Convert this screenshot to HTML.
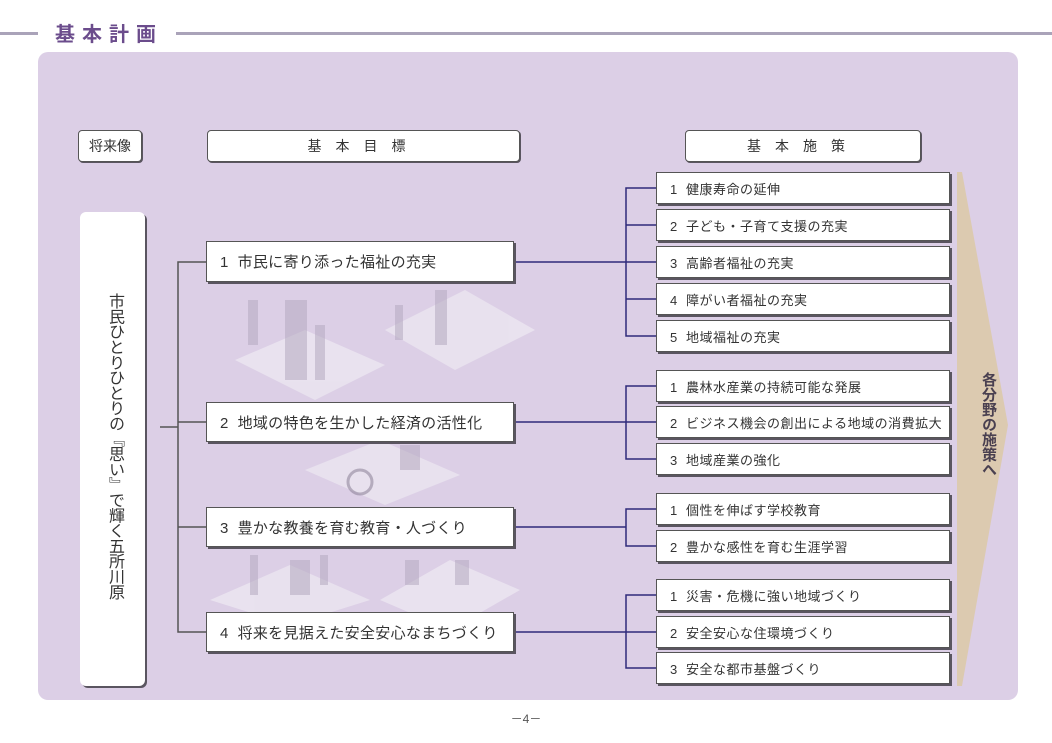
<!DOCTYPE html>
<html><head><meta charset="utf-8"><style>
*{margin:0;padding:0;box-sizing:border-box}
body{width:1052px;height:743px;background:#fff;position:relative;overflow:hidden;font-family:"Liberation Sans","Noto Sans CJK JP",sans-serif;color:#333}
.a{position:absolute}
.box{position:absolute;background:#fff;border:1px solid #555;box-shadow:2px 2px 0 #5a5560;display:flex;align-items:center;font-size:13px;color:#333}
.hd{justify-content:center;border-radius:4px;font-size:14px;letter-spacing:14px;border:1.5px solid #555;box-shadow:1px 1px 0 #5a5560}
.goal{font-size:15px;padding-left:13px;letter-spacing:0.3px}
.pol{padding-left:13px;letter-spacing:.5px}
</style></head><body>
<div class="a" style="left:0;top:32px;width:38px;height:3px;background:#aaa3b9"></div>
<div class="a" style="left:55px;top:18px;font-size:20px;font-weight:bold;color:#6b4c8c;letter-spacing:7px">基本計画</div>
<div class="a" style="left:176px;top:32px;width:876px;height:3px;background:#aaa3b9"></div>
<div class="a" style="left:38px;top:52px;width:980px;height:648px;background:#dccfe6;border-radius:10px"></div>
<svg class="a" style="left:0;top:0" width="1052" height="743">
<g fill="#ece6f1" opacity="0.8">
<polygon points="235,360 305,330 385,365 315,400"/>
<polygon points="385,330 465,290 535,330 455,370"/>
<polygon points="305,470 380,440 460,475 385,505"/>
<polygon points="210,600 290,565 370,600 290,625"/>
<polygon points="380,600 450,560 520,590 450,630"/>
</g>
<g fill="#b5aac0" opacity="0.55">
<rect x="248" y="300" width="10" height="45"/><rect x="285" y="300" width="22" height="80"/><rect x="315" y="325" width="10" height="55"/>
<rect x="435" y="290" width="12" height="55"/><rect x="395" y="305" width="8" height="35"/>
<rect x="400" y="445" width="20" height="25"/><circle cx="360" cy="482" r="12" fill="none" stroke="#8a7f96" stroke-width="3"/>
<rect x="250" y="555" width="8" height="40"/><rect x="290" y="560" width="20" height="35"/><rect x="320" y="555" width="8" height="30"/>
<rect x="405" y="560" width="14" height="25"/><rect x="455" y="560" width="14" height="25"/>
</g>
<polygon points="957,172 962,172 1008,425 962,686 957,686" fill="#dccab0"/>
<g stroke="#555" stroke-width="1.5" fill="none">
<polyline points="206,262 178,262 178,632 206,632"/>
<line x1="178" y1="422" x2="206" y2="422"/><line x1="178" y1="527" x2="206" y2="527"/>
<line x1="160" y1="427" x2="178" y2="427"/>
</g>
<g stroke="#2e2a7a" stroke-width="1.5" fill="none">
<line x1="515" y1="262" x2="626" y2="262"/>
<polyline points="656,188 626,188 626,336 656,336"/>
<line x1="626" y1="225" x2="656" y2="225"/><line x1="626" y1="262" x2="656" y2="262"/><line x1="626" y1="299" x2="656" y2="299"/>
<line x1="515" y1="422" x2="656" y2="422"/>
<polyline points="656,386 626,386 626,459 656,459"/>
<line x1="515" y1="527" x2="626" y2="527"/>
<polyline points="656,509 626,509 626,546 656,546"/>
<line x1="515" y1="632" x2="656" y2="632"/>
<polyline points="656,595 626,595 626,668 656,668"/>
</g>
</svg>
<div class="a" style="left:976px;top:372px;width:20px;font-size:15px;font-weight:bold;color:#4a4050;line-height:16px;writing-mode:vertical-rl">各分野の施策へ</div>
<div class="box hd" style="left:78px;top:130px;width:64px;height:32px;letter-spacing:0;font-size:14px">将来像</div>
<div class="box hd" style="left:207px;top:130px;width:313px;height:32px">基本目標</div>
<div class="box hd" style="left:685px;top:130px;width:236px;height:32px">基本施策</div>
<div class="a" style="left:80px;top:212px;width:65px;height:474px;background:#fff;border-radius:6px;box-shadow:2px 2px 0 #5a5560"></div>
<div class="a" style="left:103px;top:293px;font-size:16px;line-height:22px;writing-mode:vertical-rl;letter-spacing:-0.7px;color:#333">市民ひとりひとりの『思い』で輝く五所川原</div>
<div class="box goal" style="left:206px;top:241px;width:308px;height:41px">1&nbsp;&nbsp;市民に寄り添った福祉の充実</div>
<div class="box goal" style="left:206px;top:402px;width:308px;height:40px">2&nbsp;&nbsp;地域の特色を生かした経済の活性化</div>
<div class="box goal" style="left:206px;top:507px;width:308px;height:40px">3&nbsp;&nbsp;豊かな教養を育む教育・人づくり</div>
<div class="box goal" style="left:206px;top:612px;width:308px;height:40px">4&nbsp;&nbsp;将来を見据えた安全安心なまちづくり</div>
<div class="box pol" style="left:656px;top:172px;width:294px;height:32px">1&nbsp;&nbsp;健康寿命の延伸</div>
<div class="box pol" style="left:656px;top:209px;width:294px;height:32px">2&nbsp;&nbsp;子ども・子育て支援の充実</div>
<div class="box pol" style="left:656px;top:246px;width:294px;height:32px">3&nbsp;&nbsp;高齢者福祉の充実</div>
<div class="box pol" style="left:656px;top:283px;width:294px;height:32px">4&nbsp;&nbsp;障がい者福祉の充実</div>
<div class="box pol" style="left:656px;top:320px;width:294px;height:32px">5&nbsp;&nbsp;地域福祉の充実</div>
<div class="box pol" style="left:656px;top:370px;width:294px;height:32px">1&nbsp;&nbsp;農林水産業の持続可能な発展</div>
<div class="box pol" style="left:656px;top:406px;width:294px;height:32px">2&nbsp;&nbsp;ビジネス機会の創出による地域の消費拡大</div>
<div class="box pol" style="left:656px;top:443px;width:294px;height:32px">3&nbsp;&nbsp;地域産業の強化</div>
<div class="box pol" style="left:656px;top:493px;width:294px;height:32px">1&nbsp;&nbsp;個性を伸ばす学校教育</div>
<div class="box pol" style="left:656px;top:530px;width:294px;height:32px">2&nbsp;&nbsp;豊かな感性を育む生涯学習</div>
<div class="box pol" style="left:656px;top:579px;width:294px;height:32px">1&nbsp;&nbsp;災害・危機に強い地域づくり</div>
<div class="box pol" style="left:656px;top:616px;width:294px;height:32px">2&nbsp;&nbsp;安全安心な住環境づくり</div>
<div class="box pol" style="left:656px;top:652px;width:294px;height:32px">3&nbsp;&nbsp;安全な都市基盤づくり</div>
<div class="a" style="left:506px;top:710px;width:40px;text-align:center;font-size:12px;color:#555">－4－</div>
</body></html>
